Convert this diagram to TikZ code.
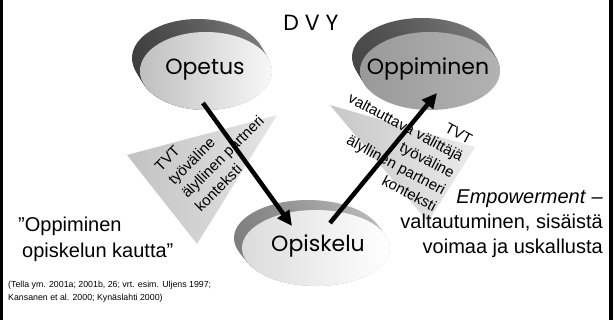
\documentclass[tikz,border=0pt]{standalone}
\usepackage{fontspec}
\setmainfont{Liberation Sans}
\newfontfamily\gothic{Poppins}
\usetikzlibrary{arrows.meta}

\begin{document}
\begin{tikzpicture}[x=1pt,y=-1pt,
    disclabel/.style={inner sep=0pt,font=\gothic\fontsize{22}{26}\selectfont},
    wedgetext/.style={inner sep=0pt,align=left,font=\fontsize{15}{19}\selectfont},
    flow/.style={line width=4.5pt,-{Triangle[length=15pt,width=14pt]}},
    bigtext/.style={inner sep=0pt,font=\fontsize{20}{25}\selectfont}]

\useasboundingbox (0,0) rectangle (615,320);

% side bars
\fill (0,0) rectangle (3,320);
\fill (609,0) rectangle (613,320);

% Opetus disc
\foreach \k in {0,...,13}
  \shade[left color=black!75,right color=black!50] (198+\k*0.6,58+\k) ellipse [x radius=66,y radius=39];
\shade[left color=black!25,right color=black!3] (206,71) ellipse [x radius=66,y radius=39];

% Oppiminen disc
\foreach \k in {0,...,13}
  \shade[left color=black!72,right color=black!50] (422+\k*0.6,57+\k) ellipse [x radius=70,y radius=39];
\shade[left color=black!40,right color=black!30] (430,71) ellipse [x radius=70,y radius=39];

% Opiskelu disc
\foreach \k in {0,...,10}
  \shade[left color=black!50,right color=black!25] (308+\k*0.8,238+\k) ellipse [x radius=74,y radius=38];
\shade[left color=black!14,right color=white] (316,248) ellipse [x radius=74,y radius=38];

% wedges
\shade[left color=black!24,right color=black!10] (127,155) -- (277,115) -- (197,244) -- cycle;
\shade[left color=black!22,right color=black!8] (330,105) -- (475,147) -- (428,222) -- cycle;

\node[wedgetext,rotate=45] (leftwedge) at (216,150)
  {TVT\\ty\"ov\"aline\\\"alyllinen partneri\\konteksti};
\node[wedgetext,rotate=-28,align=right] (rightwedge) at (397,144)
  {TVT\\valtauttava v\"alitt\"aj\"a\\ty\"ov\"aline\\\"alyllinen partneri\\konteksti};

% labels
\node[disclabel] (dvy) at (311,23) {D V Y};
\node[disclabel] (opetus) at (205,70) {Opetus};
\node[disclabel] (oppiminen) at (428,69) {Oppiminen};
\node[disclabel] (opiskelu) at (318,246) {Opiskelu};

\coordinate (opetusOut) at (203,103);
\coordinate (opiskeluIn) at (292,226);
\coordinate (opiskeluOut) at (330,223);
\coordinate (oppiminenIn) at (437,93);

\draw[flow] (opetusOut) -- (opiskeluIn);
\draw[flow] (opiskeluOut) -- (oppiminenIn);

% texts at the bottom
\node[bigtext,anchor=base west,align=left] (motto) at (18,257)
  {”Oppiminen\\\hspace{4pt}opiskelun kautta”};
\node[inner sep=0pt,anchor=base west,align=left,font=\fontsize{8.8}{13}\selectfont] (sources) at (8,300)
  {(Tella ym. 2001a; 2001b, 26; vrt. esim. Uljens 1997;\\Kansanen et al. 2000; Kyn\"aslahti 2000)};
\node[bigtext,anchor=base east,align=right] (empower) at (603,254)
  {\textit{Empowerment} –\hspace{5pt}\\valtautuminen, sis\"aist\"a\\voimaa ja uskallusta};
\end{tikzpicture}
\end{document}
